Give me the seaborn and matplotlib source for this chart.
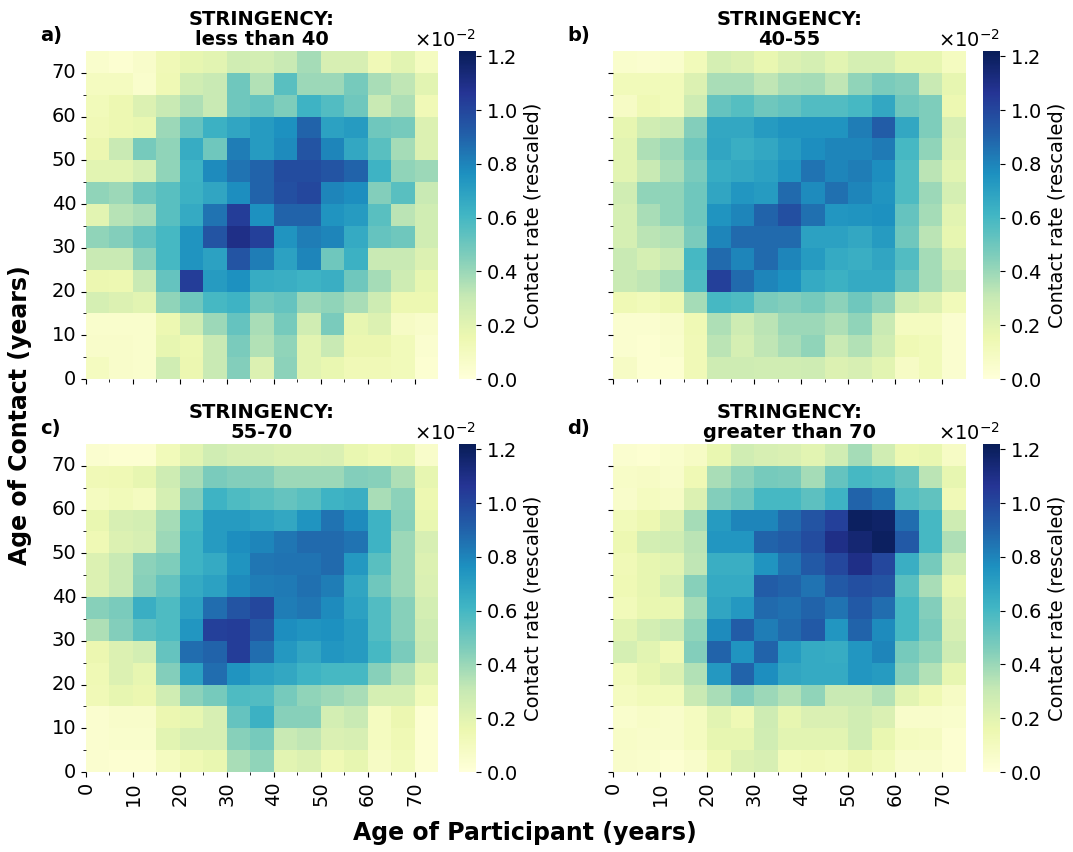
import numpy as np
import pandas as pd
import matplotlib
matplotlib.use("Agg")
import matplotlib.pyplot as plt
import seaborn as sns

plt.rcParams['font.family'] = ['DejaVu Sans']
plt.rcParams['axes.formatter.use_mathtext'] = True

# Age bins (lower edges), 5-year groups 0..70
age_bins = list(range(0, 75, 5))
tick_ages = [0, 10, 20, 30, 40, 50, 60, 70]
cbar_ticks = [0.0, 0.2, 0.4, 0.6, 0.8, 1.0, 1.2]   # in units of 1e-2
scale = 1e-2
panel_titles = ["STRINGENCY:\nless than 40", "STRINGENCY:\n40-55",
                "STRINGENCY:\n55-70", "STRINGENCY:\ngreater than 70"]
panel_letters = ["a)", "b)", "c)", "d)"]

# Contact matrices (x10^-2); rows listed from oldest contact (70-75) to youngest (0-5),
# columns: participant age 0-5 ... 70-75
contact_lt40 = [
    [0.05,0.03,0.06,0.13,0.18,0.20,0.27,0.26,0.30,0.38,0.24,0.24,0.13,0.20,0.10],
    [0.10,0.10,0.05,0.14,0.27,0.30,0.50,0.35,0.55,0.40,0.40,0.48,0.37,0.32,0.20],
    [0.12,0.15,0.22,0.30,0.36,0.30,0.50,0.52,0.46,0.62,0.57,0.50,0.30,0.36,0.13],
    [0.13,0.15,0.17,0.40,0.52,0.63,0.68,0.72,0.76,0.90,0.70,0.72,0.50,0.48,0.22],
    [0.16,0.30,0.48,0.42,0.65,0.50,0.82,0.72,0.78,0.95,0.80,0.67,0.55,0.38,0.22],
    [0.20,0.20,0.25,0.42,0.62,0.78,0.85,0.90,0.98,0.98,0.95,0.90,0.62,0.42,0.40],
    [0.42,0.40,0.50,0.55,0.63,0.68,0.77,0.90,0.97,1.00,0.80,0.77,0.45,0.55,0.30],
    [0.20,0.34,0.37,0.55,0.66,0.85,1.03,0.76,0.90,0.90,0.75,0.72,0.55,0.33,0.27],
    [0.42,0.45,0.52,0.60,0.75,0.95,1.10,1.02,0.75,0.82,0.80,0.66,0.52,0.50,0.27],
    [0.30,0.30,0.43,0.60,0.75,0.70,0.95,0.82,0.70,0.80,0.50,0.63,0.30,0.30,0.22],
    [0.16,0.15,0.30,0.52,1.03,0.72,0.76,0.65,0.64,0.62,0.64,0.50,0.38,0.28,0.18],
    [0.25,0.22,0.20,0.42,0.50,0.60,0.62,0.50,0.52,0.40,0.42,0.37,0.28,0.15,0.15],
    [0.05,0.05,0.05,0.15,0.28,0.40,0.52,0.37,0.48,0.27,0.47,0.18,0.22,0.08,0.06],
    [0.06,0.06,0.05,0.18,0.15,0.30,0.47,0.35,0.42,0.20,0.30,0.16,0.16,0.12,0.04],
    [0.10,0.06,0.05,0.27,0.16,0.30,0.45,0.22,0.43,0.20,0.17,0.13,0.13,0.12,0.03],
]
contact_40_55 = [
    [0.05,0.04,0.05,0.12,0.25,0.22,0.17,0.22,0.25,0.20,0.25,0.25,0.18,0.18,0.10],
    [0.12,0.12,0.12,0.22,0.37,0.37,0.32,0.37,0.38,0.32,0.42,0.47,0.45,0.30,0.18],
    [0.08,0.14,0.12,0.28,0.52,0.56,0.50,0.52,0.57,0.57,0.60,0.67,0.50,0.46,0.15],
    [0.18,0.27,0.30,0.45,0.67,0.67,0.72,0.75,0.75,0.75,0.82,0.92,0.67,0.46,0.24],
    [0.20,0.36,0.40,0.50,0.68,0.64,0.67,0.72,0.77,0.80,0.80,0.83,0.60,0.42,0.22],
    [0.20,0.30,0.37,0.47,0.65,0.67,0.70,0.75,0.85,0.80,0.82,0.77,0.58,0.33,0.20],
    [0.27,0.42,0.42,0.50,0.68,0.74,0.72,0.88,0.78,0.86,0.80,0.75,0.58,0.40,0.25],
    [0.25,0.37,0.42,0.50,0.75,0.80,0.90,0.97,0.86,0.74,0.75,0.76,0.52,0.38,0.20],
    [0.25,0.33,0.35,0.47,0.80,0.88,0.88,0.88,0.70,0.70,0.67,0.72,0.50,0.33,0.18],
    [0.30,0.25,0.30,0.60,0.88,0.80,0.88,0.80,0.72,0.66,0.64,0.68,0.57,0.38,0.25],
    [0.30,0.32,0.37,0.58,1.02,0.88,0.80,0.76,0.66,0.63,0.66,0.66,0.52,0.38,0.30],
    [0.14,0.12,0.15,0.38,0.60,0.58,0.47,0.45,0.48,0.43,0.50,0.43,0.27,0.22,0.12],
    [0.04,0.04,0.06,0.14,0.36,0.28,0.33,0.40,0.40,0.36,0.42,0.30,0.10,0.10,0.04],
    [0.04,0.03,0.05,0.13,0.33,0.25,0.32,0.37,0.42,0.30,0.35,0.27,0.14,0.12,0.04],
    [0.08,0.03,0.03,0.13,0.28,0.28,0.27,0.27,0.28,0.22,0.24,0.20,0.08,0.12,0.04],
]
contact_55_70 = [
    [0.04,0.03,0.03,0.12,0.20,0.27,0.24,0.24,0.22,0.22,0.23,0.17,0.14,0.17,0.06],
    [0.13,0.14,0.18,0.28,0.37,0.47,0.45,0.45,0.40,0.40,0.40,0.45,0.44,0.36,0.18],
    [0.10,0.12,0.10,0.25,0.45,0.62,0.58,0.55,0.52,0.55,0.62,0.64,0.37,0.43,0.15],
    [0.17,0.24,0.26,0.38,0.60,0.72,0.72,0.70,0.67,0.75,0.85,0.78,0.62,0.44,0.17],
    [0.14,0.22,0.24,0.40,0.62,0.72,0.77,0.80,0.84,0.88,0.88,0.85,0.62,0.40,0.24],
    [0.22,0.30,0.43,0.46,0.62,0.66,0.75,0.84,0.85,0.85,0.88,0.73,0.55,0.40,0.22],
    [0.22,0.30,0.44,0.52,0.66,0.70,0.78,0.82,0.83,0.86,0.82,0.68,0.50,0.40,0.23],
    [0.44,0.47,0.64,0.58,0.70,0.87,0.95,1.00,0.82,0.84,0.78,0.70,0.57,0.44,0.26],
    [0.36,0.45,0.54,0.58,0.74,1.02,1.03,0.94,0.77,0.75,0.76,0.72,0.57,0.44,0.28],
    [0.16,0.22,0.26,0.52,0.87,0.90,1.03,0.87,0.73,0.68,0.74,0.72,0.60,0.47,0.30],
    [0.14,0.22,0.18,0.45,0.70,0.87,0.75,0.70,0.67,0.62,0.60,0.60,0.44,0.35,0.20],
    [0.13,0.18,0.16,0.27,0.43,0.48,0.58,0.57,0.48,0.42,0.40,0.37,0.25,0.25,0.12],
    [0.04,0.06,0.06,0.16,0.18,0.24,0.52,0.63,0.44,0.44,0.26,0.30,0.10,0.16,0.03],
    [0.04,0.05,0.05,0.20,0.24,0.24,0.44,0.48,0.30,0.32,0.23,0.24,0.10,0.14,0.03],
    [0.04,0.03,0.03,0.10,0.14,0.17,0.37,0.42,0.20,0.22,0.14,0.18,0.08,0.12,0.03],
]
contact_gt70 = [
    [0.04,0.03,0.05,0.08,0.17,0.27,0.24,0.23,0.20,0.27,0.38,0.27,0.15,0.17,0.08],
    [0.07,0.08,0.06,0.14,0.37,0.43,0.48,0.47,0.38,0.52,0.60,0.58,0.52,0.33,0.18],
    [0.06,0.10,0.08,0.22,0.45,0.50,0.60,0.60,0.54,0.62,0.90,0.85,0.57,0.53,0.13],
    [0.12,0.15,0.22,0.38,0.72,0.80,0.80,0.88,0.95,1.02,1.20,1.18,0.87,0.60,0.28],
    [0.15,0.26,0.27,0.33,0.74,0.74,0.90,0.92,0.98,1.10,1.15,1.20,0.93,0.60,0.36],
    [0.13,0.18,0.20,0.32,0.64,0.64,0.75,0.85,0.93,1.00,1.10,1.00,0.64,0.48,0.27],
    [0.14,0.18,0.25,0.44,0.66,0.66,0.92,0.90,0.85,0.93,0.97,0.95,0.55,0.37,0.18],
    [0.12,0.17,0.17,0.38,0.68,0.73,0.88,0.86,0.90,0.85,0.93,0.87,0.60,0.45,0.22],
    [0.20,0.26,0.30,0.42,0.78,0.92,0.82,0.88,0.93,0.74,0.90,0.78,0.60,0.47,0.24],
    [0.25,0.20,0.14,0.45,0.90,0.75,0.90,0.72,0.66,0.65,0.74,0.80,0.48,0.42,0.28],
    [0.12,0.18,0.22,0.35,0.73,0.90,0.77,0.68,0.66,0.66,0.74,0.72,0.44,0.35,0.18],
    [0.10,0.12,0.12,0.30,0.37,0.45,0.40,0.35,0.42,0.30,0.30,0.35,0.20,0.14,0.08],
    [0.05,0.07,0.06,0.10,0.20,0.14,0.28,0.18,0.23,0.23,0.27,0.23,0.06,0.06,0.05],
    [0.07,0.06,0.06,0.10,0.18,0.18,0.27,0.20,0.20,0.20,0.27,0.17,0.10,0.09,0.03],
    [0.06,0.05,0.03,0.06,0.14,0.22,0.24,0.12,0.13,0.12,0.16,0.12,0.06,0.06,0.03],
]

W, H = 1073, 852
fig = plt.figure(figsize=(W / 100, H / 100), dpi=100)


def rect(l, t, r, b):
    return [l / W, 1 - b / H, (r - l) / W, (b - t) / H]


heat_boxes = [(86, 51, 438, 379), (613, 51, 966, 379),
              (86, 444, 438, 772), (613, 444, 966, 772)]
cbar_boxes = [(459, 51, 476, 379), (983, 51, 1000, 379),
              (459, 444, 476, 772), (983, 444, 1000, 772)]
matrices = [contact_lt40, contact_40_55, contact_55_70, contact_gt70]
n = len(age_bins)
FS = 14

for k in range(4):
    ax = fig.add_axes(rect(*heat_boxes[k]))
    cax = fig.add_axes(rect(*cbar_boxes[k]))
    df = pd.DataFrame(np.array(matrices[k]) * scale,
                      index=age_bins[::-1], columns=age_bins)
    sns.heatmap(df, ax=ax, cbar_ax=cax, cmap="YlGnBu", vmin=0, vmax=0.0122,
                cbar_kws={"label": "Contact rate (rescaled)"})
    # axis ticks at cell edges
    ax.set_xticks([a / 5 for a in tick_ages])
    ax.set_xticks([a / 5 + 1 for a in tick_ages[:-1]], minor=True)
    ax.set_yticks([n - a / 5 for a in tick_ages])
    ax.set_yticks([n - a / 5 - 1 for a in tick_ages[:-1]], minor=True)
    if k >= 2:
        ax.set_xticklabels([str(a) for a in tick_ages], rotation=90, fontsize=FS)
    else:
        ax.set_xticklabels([])
    if k % 2 == 0:
        ax.set_yticklabels([str(a) for a in tick_ages], rotation=0, fontsize=FS,
                           va="center")
    else:
        ax.set_yticklabels([])
    ax.tick_params(which="major", length=3.5, width=0.8, left=True, bottom=True)
    ax.tick_params(which="minor", length=2, width=0.6, left=True, bottom=True)
    ax.set_xlabel("")
    ax.set_ylabel("")
    ax.set_title(panel_titles[k], fontsize=14, fontweight="bold", pad=4,
                 linespacing=1.1)
    ax.text(-0.13, 1.03, panel_letters[k], transform=ax.transAxes,
            fontsize=14, fontweight="bold", ha="left", va="baseline")

    cbar = ax.collections[0].colorbar
    cbar.set_ticks([t * scale for t in cbar_ticks])
    cbar.formatter.set_powerlimits((0, 0))
    cbar.formatter.set_useMathText(True)
    cbar.update_ticks()
    cbar.ax.tick_params(labelsize=FS, length=3.5)
    cbar.ax.yaxis.get_offset_text().set_fontsize(FS)
    cbar.set_label("Contact rate (rescaled)", fontsize=FS)

fig.text(0.0186, 0.513, "Age of Contact (years)", rotation=90, fontsize=17,
         fontweight="bold", ha="center", va="center")
fig.text(0.489, 0.0223, "Age of Participant (years)", fontsize=17,
         fontweight="bold", ha="center", va="center")

fig.savefig("out.png", dpi=100)
